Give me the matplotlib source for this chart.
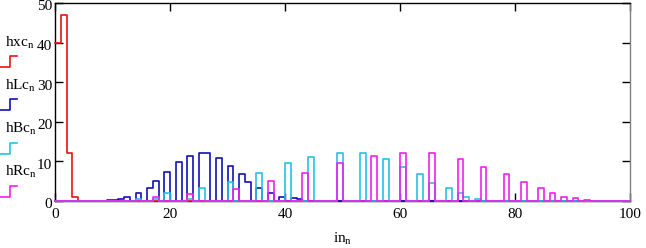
import numpy as np
import matplotlib
matplotlib.use("Agg")
import matplotlib.pyplot as plt
import matplotlib.transforms as mtransforms

plt.rcParams['font.family'] = ['Liberation Serif', 'DejaVu Serif']
plt.rcParams['mathtext.fontset'] = 'custom'
plt.rcParams['mathtext.rm'] = 'Liberation Serif'
plt.rcParams['mathtext.it'] = 'Liberation Serif:italic'

# ---- data (bin index n -> count) ----
n_max = 100
hxc_bins = [0, 1, 2, 3]
hxc_vals = [40, 47, 12, 1]

hLc_bins = [9, 10, 11, 12, 14, 16, 17, 19, 21, 23, 25, 26, 28, 30, 32, 33, 35, 37, 39, 41, 42]
hLc_vals = [0.3, 0.3, 0.5, 0.9, 2, 3.2, 5, 7.2, 9.8, 11.4, 12, 12, 10.8, 8.8, 6.9, 4.8, 3.4, 2.1, 1.0, 0.7, 0.4]

hBc_bins = [14, 17, 19, 23, 25, 30, 35, 40, 44, 49, 53, 57, 60, 63, 65, 68, 70, 71, 73]
hBc_vals = [0.4, 0.5, 2, 0.5, 3.2, 4.9, 7.1, 9.7, 11.2, 12, 12, 10.7, 8.5, 6.9, 4.6, 3.3, 2, 1, 0.5]

hRc_bins = [17, 23, 31, 37, 43, 49, 55, 60, 65, 70, 74, 78, 81, 84, 86, 88, 90, 92]
hRc_vals = [0.9, 1.8, 3.1, 5, 7, 9.6, 11.4, 12, 12, 10.6, 8.6, 6.8, 4.7, 3.4, 2, 1, 0.7, 0.3]

series_names = ['hxc', 'hLc', 'hBc', 'hRc']
series_colors = ['#ee1111', '#1010b8', '#22c4e4', '#f020f0']

x_ticks = [0, 20, 40, 60, 80, 100]
y_ticks = [0, 10, 20, 30, 40, 50]


def build(bins, vals):
    arr = np.zeros(n_max + 1)
    arr[np.array(bins)] = vals
    return arr


series = [build(hxc_bins, hxc_vals), build(hLc_bins, hLc_vals),
          build(hBc_bins, hBc_vals), build(hRc_bins, hRc_vals)]

W, H = 646, 248
fig = plt.figure(figsize=(W / 100, H / 100), dpi=100)
ax = fig.add_axes([55 / W, 1 - 201 / H, (630 - 55) / W, (201 - 3) / H])

n = np.arange(n_max + 1)
for y, c in zip(series, series_colors):
    ax.step(n, y, where='post', color=c, lw=1.2, clip_on=False, zorder=3)

ax.set_xlim(0, 100)
ax.set_ylim(0, 50)
ax.set_xticks(x_ticks)
ax.set_yticks(y_ticks)
ax.tick_params(direction='in', length=6, width=1, top=True, right=True,
               labelsize=11, colors='black')
ax.tick_params(axis='y', pad=2)
ax.tick_params(axis='x', pad=5)
for s in ['left', 'bottom', 'top']:
    ax.spines[s].set_color('black')
    ax.spines[s].set_linewidth(1)
ax.spines['right'].set_color('#808080')
ax.spines['right'].set_linewidth(1)

# shift y tick labels slightly down so the top one stays inside the figure
shift = mtransforms.ScaledTranslation(0, -2.5 / 100, fig.dpi_scale_trans)
for lbl in ax.get_yticklabels():
    lbl.set_transform(lbl.get_transform() + shift)

# overlay in figure pixel coordinates for legend and x label
lax = fig.add_axes([0, 0, 1, 1])
lax.set_xlim(0, W)
lax.set_ylim(H, 0)
lax.axis('off')

lax.text(343, 243, r'in$_{\mathrm{n}}$', fontsize=11, ha='center', va='baseline')

label_base = [46.5, 89.5, 132.5, 175.5]
step_low = [66.7, 110, 153.5, 197]
for name, c, yb, yl in zip(series_names, series_colors, label_base, step_low):
    lax.text(5, yb, name + r'$_{\mathrm{n}}$', fontsize=11, ha='left', va='baseline')
    lax.plot([0, 10, 10, 16.5], [yl, yl, yl - 11, yl - 11], color=c, lw=1.2)

fig.savefig('out.png', dpi=100)
